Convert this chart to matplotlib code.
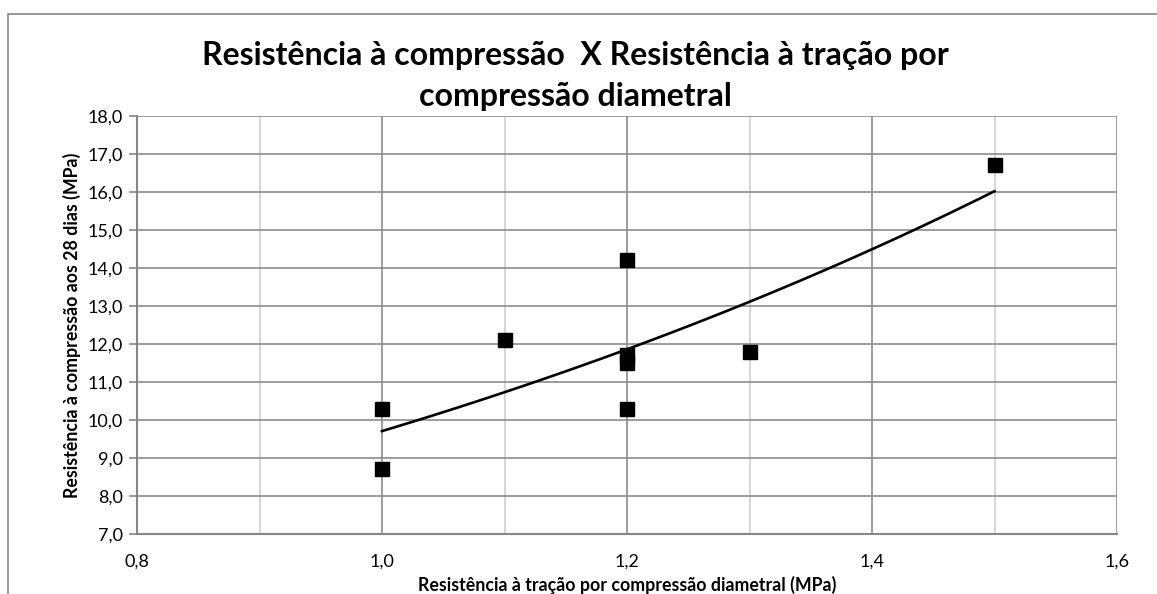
import numpy as np
import matplotlib.pyplot as plt
from matplotlib.patches import Rectangle
from matplotlib.ticker import MultipleLocator, FuncFormatter

plt.rcParams['font.family'] = ['Lato', 'DejaVu Sans']

# Ensaios: tração por compressão diametral x compressão aos 28 dias
tracao = [1.0, 1.0, 1.1, 1.2, 1.2, 1.2, 1.2, 1.3, 1.5]
compressao = [10.3, 8.7, 12.1, 14.2, 11.7, 11.5, 10.3, 11.8, 16.7]

titulo = 'Resistência à compressão  X Resistência à tração por\ncompressão diametral'
rotulo_x = 'Resistência à tração por compressão diametral (MPa)'
rotulo_y = 'Resistência à compressão aos 28 dias (MPa)'

# Linha de tendência exponencial (ajuste em ln y)
x = np.array(tracao)
y = np.array(compressao)
b, ln_a = np.polyfit(x, np.log(y), 1)
xt = np.linspace(x.min(), x.max(), 100)
yt = np.exp(ln_a) * np.exp(b * xt)

fig = plt.figure(figsize=(11.57, 5.94), dpi=100)
ax = fig.add_axes([137 / 1157, 1 - 534 / 594, (1117 - 137) / 1157, (534 - 116) / 594])

# moldura do gráfico
fig.patches.append(Rectangle((8 / 1157, -0.1), 1.2, 1 - 14 / 594 + 0.1, transform=fig.transFigure,
                             fill=False, edgecolor='#868686', linewidth=1.2))

ax.set_xlim(0.8, 1.6)
ax.set_ylim(7, 18)
ax.xaxis.set_major_locator(MultipleLocator(0.2))
ax.xaxis.set_minor_locator(MultipleLocator(0.1))
ax.yaxis.set_major_locator(MultipleLocator(1))
fmt1 = FuncFormatter(lambda v, p: f'{v:.1f}'.replace('.', ','))
ax.xaxis.set_major_formatter(fmt1)
ax.yaxis.set_major_formatter(fmt1)

ax.grid(True, which='major', axis='both', color='#8c8c8c', linewidth=1.2)
ax.grid(True, which='minor', axis='x', color='#cfcfcf', linewidth=1.2)
ax.set_axisbelow(True)

for s in ['top', 'right']:
    ax.spines[s].set_visible(False)
for s in ['left', 'bottom']:
    ax.spines[s].set_color('#868686')
    ax.spines[s].set_linewidth(1.5)

ax.tick_params(axis='y', length=6, width=1.2, color='#868686', labelsize=13, pad=4)
ax.tick_params(axis='x', which='both', length=0, labelsize=13, pad=14)

ax.plot(xt, yt, color='black', linewidth=1.9, zorder=3)
ax.plot(tracao, compressao, 's', color='black', markersize=10, zorder=4)

fig.text(0.4975, 1 - 76 / 594, titulo, ha='center', va='center', fontsize=23,
         fontweight='bold', linespacing=1.5)
ax.set_xlabel(rotulo_x, fontsize=12.8, fontweight='bold', labelpad=5)
ax.set_ylabel(rotulo_y, fontsize=12.8, fontweight='bold', labelpad=5)

fig.savefig('out.png', dpi=100)
